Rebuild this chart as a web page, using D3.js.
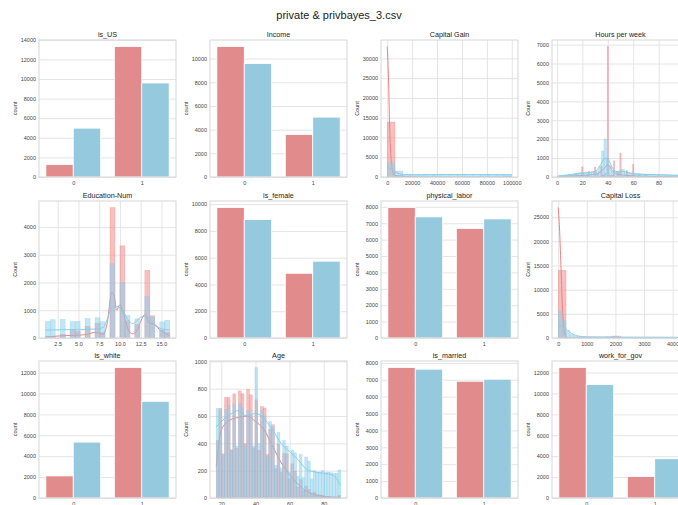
<!DOCTYPE html>
<html>
<head>
<meta charset="utf-8">
<script src="https://cdn.jsdelivr.net/npm/d3@7"></script>
<style>
  body { margin: 0; background: #fff; }
  svg { display: block; }
  text { font-family: "Liberation Sans", Arial, sans-serif; }
</style>
</head>
<body>
<svg id="fig" width="678" height="505"></svg>
<script>
// ---------- data ----------
const figureTitle = "private & privbayes_3.csv";
const seriesNames = ["private", "privbayes_3"];
const binaryCats = ["0", "1"];

// count plots: [private, privbayes] counts for categories 0 and 1
const isUSPrivate = [1263, 13317], isUSBayes = [4985, 9595];
const incomePrivate = [11017, 3588], incomeBayes = [9576, 5056];
const isFemalePrivate = [9749, 4837], isFemaleBayes = [8847, 5739];
const physLaborPrivate = [7959, 6673], physLaborBayes = [7388, 7265];
const isWhitePrivate = [2112, 12480], isWhiteBayes = [5344, 9248];
const isMarriedPrivate = [7723, 6911], isMarriedBayes = [7624, 7030];
const govPrivate = [12480, 2053], govBayes = [10844, 3754];

const isUSTicks = [0, 2000, 4000, 6000, 8000, 10000, 12000, 14000];
const incomeTicks = [0, 2000, 4000, 6000, 8000, 10000];
const isFemaleTicks = [0, 2000, 4000, 6000, 8000, 10000];
const physLaborTicks = [0, 1000, 2000, 3000, 4000, 5000, 6000, 7000, 8000];
const isWhiteTicks = [0, 2000, 4000, 6000, 8000, 10000, 12000];
const isMarriedTicks = [0, 1000, 2000, 3000, 4000, 5000, 6000, 7000, 8000];
const govTicks = [0, 2000, 4000, 6000, 8000, 10000, 12000];

// Capital Gain
const capGainRange = [0, 99999];
const capGainPrivBins = { start: 0, width: 6250, counts: [13900, 450, 150, 40, 20, 10, 5, 0, 0, 0, 0, 0, 0, 0, 0, 70] };
const capGainBayesBins = { start: 0, width: 6250, counts: [3560, 1500, 700, 650, 650, 650, 650, 650, 650, 650, 650, 650, 650, 650, 650, 650] };
const capGainPrivKde = [[0, 33000], [1000, 25000], [2000, 12000], [3000, 5000], [4000, 2000], [5000, 900], [7000, 300], [10000, 200], [15000, 150], [20000, 50], [30000, 0], [99999, 0]];
const capGainBayesKde = [[0, 2500], [3000, 2000], [6000, 1300], [10000, 800], [15000, 600], [20000, 560], [40000, 600], [60000, 600], [80000, 600], [99999, 550]];
const capGainXTicks = [0, 20000, 40000, 60000, 80000, 100000];
const capGainYTicks = [0, 5000, 10000, 15000, 20000, 25000, 30000];

// Hours per week
const hoursRange = [1, 99];
const hoursPrivBins = { start: 0.5, width: 1, counts: [
  10, 15, 20, 20, 30, 30, 15, 60, 10, 120, 5, 70, 10, 15, 200, 90, 10, 50, 5, 530,
  10, 30, 10, 100, 300, 15, 10, 40, 5, 520, 5, 120, 20, 30, 560, 100, 70, 200, 20, 6900,
  15, 100, 70, 90, 850, 40, 20, 240, 10, 1260, 5, 60, 10, 15, 340, 40, 10, 15, 5, 650,
  2, 10, 5, 5, 110, 5, 2, 5, 2, 130, 0, 30, 2, 2, 30, 2, 2, 2, 0, 60,
  2, 0, 0, 20, 5, 2, 0, 0, 0, 15, 0, 0, 0, 0, 2, 2, 0, 5, 40] };
const hoursBayesBins = { start: 1, width: 2, counts: [
  80, 90, 110, 130, 150, 160, 170, 200, 230, 250, 230, 250, 260, 270, 300, 330, 550, 1375, 2010, 1000,
  600, 350, 300, 300, 350, 400, 300, 250, 220, 200, 180, 170, 160, 150, 150, 140, 140, 130, 130, 130,
  120, 120, 120, 110, 110, 100, 100, 100, 100] };
const hoursPrivKde = [[1, 20], [10, 40], [20, 80], [30, 150], [34, 250], [37, 450], [40, 650], [43, 400], [46, 180], [50, 120], [60, 60], [70, 40], [80, 20], [99, 10]];
const hoursBayesKde = [[1, 50], [10, 100], [20, 200], [30, 300], [34, 600], [37, 950], [39, 1000], [41, 850], [44, 450], [47, 280], [52, 300], [60, 170], [80, 120], [99, 80]];
const hoursXTicks = [0, 20, 40, 60, 80, 100];
const hoursYTicks = [0, 1000, 2000, 3000, 4000, 5000, 6000, 7000];

// Education-Num (discrete levels, shared bins)
const eduRange = [1, 16];
const eduBinStart = 1, eduBinWidth = 0.6, eduBinCount = 25;
const eduLevels = [1, 2, 3, 4, 5, 6, 7, 8, 9, 10, 11, 12, 13, 14, 15, 16];
const eduPrivCounts = [10, 60, 130, 300, 240, 420, 530, 200, 4700, 3320, 620, 480, 2440, 800, 280, 200];
const eduBayesCounts = [600, 660, 670, 590, 600, 700, 730, 590, 2680, 1990, 820, 690, 1500, 760, 580, 640];
const eduPrivKde = [[1, 40], [2, 60], [3, 80], [4, 90], [5, 100], [6, 130], [7, 200], [7.5, 170], [8, 130], [8.5, 600], [9, 1650], [9.3, 1500], [9.6, 1000], [10, 1200], [10.3, 1000], [11, 300], [11.5, 150], [12, 250], [12.5, 600], [13, 850], [13.5, 550], [14, 500], [15, 250], [16, 80]];
const eduBayesKde = [[1, 290], [2, 290], [3, 300], [4, 300], [5, 300], [6, 310], [7, 320], [8, 380], [8.5, 700], [9, 1100], [9.5, 1150], [10, 1080], [10.5, 900], [11, 650], [11.5, 520], [12, 600], [12.5, 750], [13, 780], [13.5, 700], [14, 550], [15, 330], [16, 290]];
const eduXTicks = [2.5, 5.0, 7.5, 10.0, 12.5, 15.0];
const eduYTicks = [0, 1000, 2000, 3000, 4000];

// Capital Loss
const capLossRange = [0, 4356];
const capLossPrivBins = { start: 0, width: 272.25, counts: [14000, 10, 5, 10, 20, 40, 230, 400, 50, 10, 5, 0, 0, 0, 0, 5] };
const capLossBayesBins = { start: 0, width: 136.125, counts: [5600, 3600, 1500, 700, 350, 250, 200, 180, 170, 160, 150, 150, 140, 140, 130, 130, 130, 120, 120, 120, 110, 110, 110, 100, 100, 100, 100, 90, 90, 90, 90, 90] };
const capLossPrivKde = [[0, 27000], [50, 22000], [100, 14000], [150, 6000], [200, 2000], [250, 500], [300, 100], [400, 0], [1600, 20], [1800, 120], [1900, 160], [2000, 110], [2300, 20], [2600, 0], [4356, 0]];
const capLossBayesKde = [[0, 2400], [100, 2500], [200, 2300], [300, 1800], [400, 1200], [500, 800], [700, 400], [1000, 250], [2000, 200], [3000, 170], [4356, 150]];
const capLossXTicks = [0, 1000, 2000, 3000, 4000];
const capLossYTicks = [0, 5000, 10000, 15000, 20000, 25000];

// Age
const ageRange = [17, 90];
const ageBinStart = 17, ageBinWidth = 73 / 45;
const agePrivCounts = [423, 656, 323, 736, 734, 352, 762, 364, 784, 763, 397, 795, 755, 366, 718, 349, 669, 659, 317, 502,
  536, 214, 394, 188, 324, 323, 140, 250, 196, 80, 135, 54, 88, 62, 29, 43, 21, 23, 20, 9, 8, 4, 2, 2, 19];
const ageBayesCounts = [655, 640, 320, 650, 680, 350, 690, 380, 690, 660, 380, 640, 610, 380, 955, 400, 640, 600, 300, 560,
  520, 240, 480, 220, 420, 380, 190, 350, 330, 160, 320, 150, 300, 270, 140, 200, 190, 190, 200, 185, 190, 185, 180, 180, 205];
const agePrivKde = [[17, 230], [20, 500], [25, 570], [30, 590], [35, 600], [40, 560], [45, 500], [50, 380], [55, 260], [60, 170], [65, 100], [70, 50], [75, 25], [80, 12], [90, 5]];
const ageBayesKde = [[17, 520], [20, 560], [25, 610], [30, 640], [35, 600], [40, 620], [45, 580], [50, 500], [55, 400], [60, 340], [65, 280], [70, 210], [75, 190], [80, 180], [85, 170], [90, 90]];
const ageXTicks = [20, 40, 60, 80];
const ageYTicks = [0, 200, 400, 600, 800, 1000];

// ---------- layout ----------
const W = 137, H = 137;
const colX = [39, 210, 381, 552];
const rowY = [40, 201, 361];
const barPrivColor = "#e28b8d", barBayesColor = "#94c9de";
const histPrivColor = "lightcoral", histBayesColor = "skyblue";
const gridColor = "#e4e4e4", spineColor = "#d6d6d6", tickText = "#444";

function evenBins(spec) {
  return spec.counts.map((c, i) => ({ x0: spec.start + i * spec.width, x1: spec.start + (i + 1) * spec.width, count: c }));
}
function levelBins(levels, counts, start, width, n) {
  return levels.map((v, i) => {
    const k = Math.min(Math.floor((v - start) / width + 1e-9), n - 1);
    return { x0: start + k * width, x1: start + (k + 1) * width, count: counts[i] };
  });
}

const panels = [
  { kind: "count", title: "is_US", priv: isUSPrivate, bayes: isUSBayes, yTicks: isUSTicks },
  { kind: "count", title: "Income", priv: incomePrivate, bayes: incomeBayes, yTicks: incomeTicks },
  { kind: "hist", title: "Capital Gain", range: capGainRange, priv: evenBins(capGainPrivBins), bayes: evenBins(capGainBayesBins),
    privKde: capGainPrivKde, bayesKde: capGainBayesKde, xTicks: capGainXTicks, yTicks: capGainYTicks, xFmt: d3.format("d") },
  { kind: "hist", title: "Hours per week", range: hoursRange, priv: evenBins(hoursPrivBins), bayes: evenBins(hoursBayesBins),
    privKde: hoursPrivKde, bayesKde: hoursBayesKde, xTicks: hoursXTicks, yTicks: hoursYTicks, xFmt: d3.format("d") },
  { kind: "hist", title: "Education-Num", range: eduRange,
    priv: levelBins(eduLevels, eduPrivCounts, eduBinStart, eduBinWidth, eduBinCount),
    bayes: levelBins(eduLevels, eduBayesCounts, eduBinStart, eduBinWidth, eduBinCount),
    privKde: eduPrivKde, bayesKde: eduBayesKde, xTicks: eduXTicks, yTicks: eduYTicks, xFmt: d3.format(".1f") },
  { kind: "count", title: "is_female", priv: isFemalePrivate, bayes: isFemaleBayes, yTicks: isFemaleTicks },
  { kind: "count", title: "physical_labor", priv: physLaborPrivate, bayes: physLaborBayes, yTicks: physLaborTicks },
  { kind: "hist", title: "Capital Loss", range: capLossRange, priv: evenBins(capLossPrivBins), bayes: evenBins(capLossBayesBins),
    privKde: capLossPrivKde, bayesKde: capLossBayesKde, xTicks: capLossXTicks, yTicks: capLossYTicks, xFmt: d3.format("d") },
  { kind: "count", title: "is_white", priv: isWhitePrivate, bayes: isWhiteBayes, yTicks: isWhiteTicks },
  { kind: "hist", title: "Age", range: ageRange,
    priv: evenBins({ start: ageBinStart, width: ageBinWidth, counts: agePrivCounts }),
    bayes: evenBins({ start: ageBinStart, width: ageBinWidth, counts: ageBayesCounts }),
    privKde: agePrivKde, bayesKde: ageBayesKde, xTicks: ageXTicks, yTicks: ageYTicks, xFmt: d3.format("d") },
  { kind: "count", title: "is_married", priv: isMarriedPrivate, bayes: isMarriedBayes, yTicks: isMarriedTicks },
  { kind: "count", title: "work_for_gov", priv: govPrivate, bayes: govBayes, yTicks: govTicks }
];

// ---------- drawing ----------
const svg = d3.select("#fig");
svg.append("rect").attr("width", 678).attr("height", 505).attr("fill", "#fff");
svg.append("text").attr("x", 339).attr("y", 19).attr("text-anchor", "middle")
  .attr("font-size", 11).attr("fill", "#222").text(figureTitle);

function styleAxisText(sel, size) {
  sel.select(".domain").remove();
  sel.selectAll("line").remove();
  sel.selectAll("text").attr("font-size", size).attr("fill", tickText)
    .attr("font-family", "'Liberation Sans', Arial, sans-serif");
}

function drawFrame(g, x, y, p, xGrid, yLabel) {
  // horizontal grid
  g.append("g").call(d3.axisLeft(y).tickValues(p.yTicks).tickSize(-W).tickFormat(""))
    .call(s => { s.select(".domain").remove(); s.selectAll("line").attr("stroke", gridColor).attr("stroke-width", 1); });
  if (xGrid) {
    g.append("g").attr("transform", `translate(0,${H})`)
      .call(d3.axisBottom(x).tickValues(p.xTicks.filter(t => x(t) >= 0 && x(t) <= W)).tickSize(-H).tickFormat(""))
      .call(s => { s.select(".domain").remove(); s.selectAll("line").attr("stroke", gridColor).attr("stroke-width", 1); });
  }
  g.append("g").call(d3.axisLeft(y).tickValues(p.yTicks).tickSize(0).tickPadding(3).tickFormat(d3.format("d")))
    .call(s => styleAxisText(s, 5.5));
  g.append("text").attr("transform", `translate(-24,${H / 2}) rotate(-90)`).attr("text-anchor", "middle")
    .attr("dy", "0.35em").attr("font-size", 5.5).attr("fill", "#333").text(yLabel);
  g.append("text").attr("x", W / 2).attr("y", -3).attr("text-anchor", "middle")
    .attr("font-size", 7.2).attr("fill", "#222").text(p.title);
}

function drawSpines(g) {
  g.append("rect").attr("x", 0).attr("y", 0).attr("width", W).attr("height", H)
    .attr("fill", "none").attr("stroke", spineColor).attr("stroke-width", 1);
}

panels.forEach((p, i) => {
  const g = svg.append("g").attr("transform", `translate(${colX[i % 4]},${rowY[Math.floor(i / 4)]})`);
  if (p.kind === "count") {
    const x = d3.scaleLinear().domain([-0.5, binaryCats.length - 0.5]).range([0, W]);
    const y = d3.scaleLinear().domain([0, d3.max([...p.priv, ...p.bayes]) * 1.05]).range([H, 0]);
    drawFrame(g, x, y, p, false, "count");
    const groups = [{ vals: p.priv, off: -0.4, color: barPrivColor }, { vals: p.bayes, off: 0, color: barBayesColor }];
    groups.forEach(s => {
      g.append("g").selectAll("rect").data(s.vals).join("rect")
        .attr("x", (d, k) => x(k + s.off)).attr("width", x(0.4) - x(0))
        .attr("y", d => y(d)).attr("height", d => y(0) - y(d))
        .attr("fill", s.color).attr("stroke", "#fff").attr("stroke-width", 0.8);
    });
    g.append("g").attr("transform", `translate(0,${H})`)
      .call(d3.axisBottom(x).tickValues(binaryCats.map((c, k) => k)).tickFormat(k => binaryCats[k]).tickSize(0).tickPadding(4))
      .call(s => styleAxisText(s, 5.5));
    drawSpines(g);
  } else {
    const span = p.range[1] - p.range[0];
    const x = d3.scaleLinear().domain([p.range[0] - 0.05 * span, p.range[1] + 0.05 * span]).range([0, W]);
    const yTop = d3.max([
      d3.max(p.priv, d => d.count), d3.max(p.bayes, d => d.count),
      d3.max(p.privKde, d => d[1]), d3.max(p.bayesKde, d => d[1])]) * 1.05;
    const y = d3.scaleLinear().domain([0, yTop]).range([H, 0]);
    drawFrame(g, x, y, p, true, "Count");
    const clipId = "clip" + i;
    g.append("clipPath").attr("id", clipId).append("rect").attr("width", W).attr("height", H);
    const plot = g.append("g").attr("clip-path", `url(#${clipId})`);
    const line = d3.line().x(d => x(d[0])).y(d => y(d[1])).curve(d3.curveMonotoneX);
    const layers = [
      { bins: p.priv, kde: p.privKde, color: histPrivColor },
      { bins: p.bayes, kde: p.bayesKde, color: histBayesColor }
    ];
    layers.forEach(L => {
      plot.append("g").selectAll("rect").data(L.bins.filter(b => b.count > 0)).join("rect")
        .attr("x", b => x(b.x0)).attr("width", b => Math.max(0, x(b.x1) - x(b.x0)))
        .attr("y", b => y(b.count)).attr("height", b => y(0) - y(b.count))
        .attr("fill", L.color).attr("fill-opacity", 0.5)
        .attr("stroke", L.color).attr("stroke-opacity", 0.55).attr("stroke-width", 0.5);
      plot.append("path").datum(L.kde).attr("d", line)
        .attr("fill", "none").attr("stroke", L.color).attr("stroke-width", 1);
    });
    g.append("g").attr("transform", `translate(0,${H})`)
      .call(d3.axisBottom(x).tickValues(p.xTicks).tickFormat(p.xFmt).tickSize(0).tickPadding(4))
      .call(s => styleAxisText(s, 5.5));
    drawSpines(g);
  }
});
</script>
</body>
</html>
